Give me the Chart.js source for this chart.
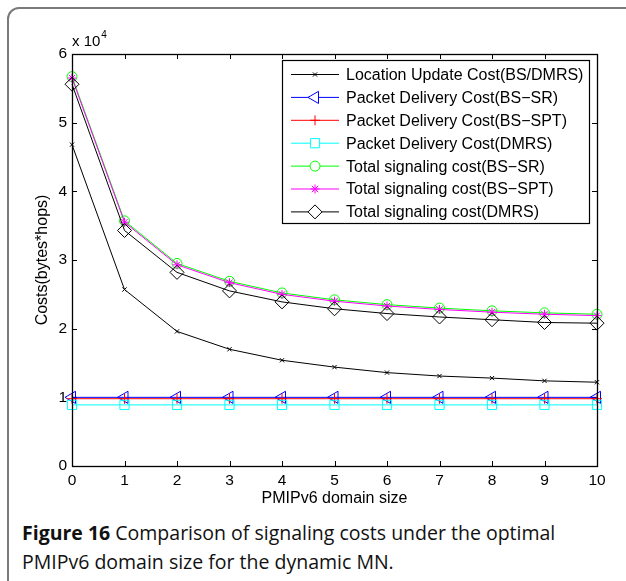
<!DOCTYPE html>
<html>
<head>
<meta charset="utf-8">
<script src="https://cdn.jsdelivr.net/npm/chart.js@4.4.0/dist/chart.umd.min.js"></script>
<style>
  html, body { margin: 0; padding: 0; background: #fff; overflow: hidden; }
  #frame { position: absolute; left: 7px; top: 7px; width: 660px; height: 620px; border: 2px solid #7a7a7a; border-radius: 12px; box-sizing: border-box; }
  #wrap { position: absolute; left: 0; top: 0; width: 626px; height: 510px; }
  #caption { position: absolute; left: 22px; top: 518px; font-family: "Open Sans", sans-serif; font-size: 19.5px; line-height: 29px; color: #111; white-space: nowrap; }
  #caption b { font-weight: 700; }
</style>
</head>
<body>
<div id="frame"></div>
<div id="wrap"><canvas id="chart"></canvas></div>
<div id="caption"><b>Figure 16</b> Comparison of signaling costs under the optimal<br>PMIPv6 domain size for the dynamic MN.</div>
<script>
// PMIPv6 domain size
const domainSize = [0, 1, 2, 3, 4, 5, 6, 7, 8, 9, 10];

// costs in bytes*hops
const locationUpdate = [46800, 25700, 19600, 17000, 15400, 14400, 13600, 13100, 12800, 12400, 12200];
const pdBsSr   = [10000, 10000, 10000, 10000, 10000, 10000, 10000, 10000, 10000, 10000, 10000];
const pdBsSpt  = [9800, 9800, 9800, 9800, 9800, 9800, 9800, 9800, 9800, 9800, 9800];
const pdDmrs   = [8900, 8900, 8900, 8900, 8900, 8900, 8900, 8900, 8900, 8900, 8900];
const totBsSr  = [56700, 35700, 29500, 26900, 25200, 24200, 23500, 23000, 22600, 22300, 22100];
const totBsSpt = [56500, 35500, 29300, 26700, 25000, 24000, 23300, 22800, 22400, 22100, 21900];
const totDmrs  = [55600, 34300, 28200, 25500, 23900, 22900, 22200, 21700, 21300, 20900, 20800];

const yTicks = [0, 10000, 20000, 30000, 40000, 50000, 60000];

const FONT = '"Liberation Sans", Arial, Helvetica, sans-serif';

const series = [
  { label: 'Location Update Cost(BS/DMRS)', data: locationUpdate, color: '#000000', style: 'crossRot', r: 3, rot: 0 },
  { label: 'Packet Delivery Cost(BS\u2212SR)', data: pdBsSr, color: '#0000ff', style: 'triangle', r: 7, rot: -90 },
  { label: 'Packet Delivery Cost(BS\u2212SPT)', data: pdBsSpt, color: '#ff0000', style: 'cross', r: 5, rot: 0 },
  { label: 'Packet Delivery Cost(DMRS)', data: pdDmrs, color: '#00ffff', style: 'rect', r: 6.5, rot: 0 },
  { label: 'Total signaling cost(BS\u2212SR)', data: totBsSr, color: '#00ff00', style: 'circle', r: 5, rot: 0 },
  { label: 'Total signaling cost(BS\u2212SPT)', data: totBsSpt, color: '#ff00ff', style: 'star', r: 4.5, rot: 0 },
  { label: 'Total signaling cost(DMRS)', data: totDmrs, color: '#000000', style: 'rectRot', r: 7, rot: 0 }
];

// matlab style box, inward ticks, axis titles and legend
const matlabAxes = {
  id: 'matlabAxes',
  beforeDatasetsDraw(chart) {
    const { ctx, chartArea: a, scales: { x, y } } = chart;
    ctx.save();
    ctx.strokeStyle = '#000';
    ctx.lineWidth = 1;
    ctx.beginPath();
    domainSize.forEach(v => {
      const px = Math.round(x.getPixelForValue(v)) + 0.5;
      ctx.moveTo(px, a.bottom); ctx.lineTo(px, a.bottom - 5);
      ctx.moveTo(px, a.top); ctx.lineTo(px, a.top + 5);
    });
    yTicks.forEach(v => {
      const py = Math.round(y.getPixelForValue(v)) + 0.5;
      ctx.moveTo(a.left, py); ctx.lineTo(a.left + 5, py);
      ctx.moveTo(a.right, py); ctx.lineTo(a.right - 5, py);
    });
    ctx.stroke();
    ctx.restore();
  },
  afterDatasetsDraw(chart) {
    const { ctx, chartArea: a } = chart;
    ctx.save();
    ctx.strokeStyle = '#000';
    ctx.lineWidth = 1.3;
    ctx.strokeRect(Math.round(a.left) + 0.5, Math.round(a.top) + 0.5, Math.round(a.right - a.left), Math.round(a.bottom - a.top));

    // axis titles
    ctx.fillStyle = '#000';
    ctx.font = '16px ' + FONT;
    ctx.textAlign = 'center';
    ctx.textBaseline = 'middle';
    ctx.fillText('PMIPv6 domain size', (a.left + a.right) / 2, 499);
    ctx.save();
    ctx.translate(43, (a.top + a.bottom) / 2);
    ctx.rotate(-Math.PI / 2);
    ctx.fillText('Costs(bytes*hops)', 0, 0);
    ctx.restore();

    // exponent label
    ctx.textAlign = 'left';
    ctx.textBaseline = 'alphabetic';
    ctx.font = '15px ' + FONT;
    ctx.fillText('x 10', a.left, 46);
    const w = ctx.measureText('x 10').width;
    ctx.font = '10px ' + FONT;
    ctx.fillText('4', a.left + w + 1, 38);

    // legend
    const bx = a.right - 8, by = a.top + 6;
    const rowH = 22.9;
    const boxW = 307, boxH = 163;
    ctx.fillStyle = '#fff';
    ctx.fillRect(bx - boxW, by, boxW, boxH);
    ctx.lineWidth = 1.2;
    ctx.strokeStyle = '#000';
    ctx.strokeRect(bx - boxW + 0.5, by + 0.5, boxW, boxH);
    ctx.font = '16px ' + FONT;
    ctx.textBaseline = 'middle';
    series.forEach((s, i) => {
      const cy = by + 14.5 + i * rowH;
      const lx = bx - boxW + 9;
      ctx.strokeStyle = s.color;
      ctx.lineWidth = 1;
      ctx.beginPath();
      ctx.moveTo(lx, cy); ctx.lineTo(lx + 48, cy);
      ctx.stroke();
      ctx.fillStyle = '#fff';
      Chart.helpers.drawPoint(ctx, { pointStyle: s.style, radius: s.r, rotation: s.rot, borderWidth: 1 }, lx + 24, cy);
      ctx.fillStyle = '#000';
      ctx.fillText(s.label, lx + 55, cy + 1);
    });
    ctx.restore();
  }
};

new Chart(document.getElementById('chart'), {
  type: 'line',
  data: {
    datasets: series.map((s, i) => ({
      label: s.label,
      data: s.data.map((v, j) => ({ x: domainSize[j], y: v })),
      borderColor: s.color,
      backgroundColor: 'rgba(0,0,0,0)',
      pointBorderColor: s.color,
      pointBackgroundColor: 'rgba(0,0,0,0)',
      pointStyle: s.style,
      pointRadius: s.r,
      pointRotation: s.rot,
      pointBorderWidth: 1,
      borderWidth: 1,
      tension: 0,
      clip: false,
      order: series.length - 1 - i
    }))
  },
  options: {
    responsive: true,
    maintainAspectRatio: false,
    animation: false,
    events: [],
    layout: { padding: { left: 0, right: 29, top: 54, bottom: 0 } },
    plugins: { legend: { display: false }, tooltip: { enabled: false } },
    scales: {
      x: {
        type: 'linear',
        min: 0, max: 10,
        afterFit: s => { s.height = 44; },
        afterBuildTicks: s => { s.ticks = domainSize.map(v => ({ value: v })); },
        grid: { display: false, drawTicks: false },
        border: { display: false },
        ticks: { color: '#000', font: { family: FONT, size: 15.5 }, padding: 5, maxRotation: 0 }
      },
      y: {
        min: 0, max: 60000,
        afterFit: s => { s.width = 72; },
        afterBuildTicks: s => { s.ticks = yTicks.map(v => ({ value: v })); },
        grid: { display: false, drawTicks: false },
        border: { display: false },
        ticks: { color: '#000', font: { family: FONT, size: 15.5 }, padding: 5, callback: v => v / 10000 }
      }
    }
  },
  plugins: [matlabAxes]
});
</script>
</body>
</html>
